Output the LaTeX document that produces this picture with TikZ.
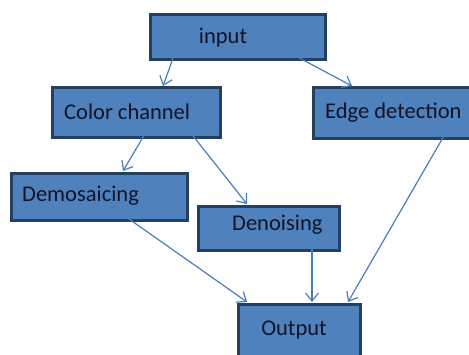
\documentclass[tikz,border=0pt]{standalone}
\usepackage{fontspec}
\setmainfont{Carlito}
\usetikzlibrary{arrows.meta}
\definecolor{boxfill}{HTML}{4F81BD}
\definecolor{boxline}{HTML}{243F60}
\definecolor{arrowc}{HTML}{4A7EBB}
\definecolor{txt}{HTML}{10142A}
\tikzset{
  blk/.style={draw=boxline, line width=3pt, fill=boxfill},
  lbl/.style={text=txt, font=\fontsize{22.5}{25}\selectfont, inner sep=0pt},
  conn/.style={draw=arrowc, line width=1.2pt, -{Straight Barb[length=8pt,width=13pt,line width=1.2pt]}}
}
\begin{document}
\begin{tikzpicture}[x=1pt,y=-1pt]
\clip (0,0) rectangle (469,354);
\fill[white] (0,0) rectangle (469,354);
% boxes
\draw[blk] (150,14) rectangle (325,59);
\draw[blk] (52,87) rectangle (220,137);
\draw[blk] (313,87) rectangle (470,138);
\draw[blk] (11,173) rectangle (187,220);
\draw[blk] (198,206) rectangle (339,250);
\draw[blk] (238,304) rectangle (360,358);
% labels
\node[lbl] (in) at (223,38) {input};
\node[lbl, anchor=west] (cc) at (64,112) {Color channel};
\node[lbl, anchor=west] (ed) at (325,113) {Edge detection};
\node[lbl, anchor=west] (dm) at (22,196) {Demosaicing};
\node[lbl, anchor=west] (dn) at (232,225) {Denoising};
\node[lbl] (out) at (294,330) {Output};
% connector endpoints
\coordinate (a1) at (176,50);  \coordinate (a2) at (163,86);
\coordinate (b1) at (290,53);  \coordinate (b2) at (352,86);
\coordinate (c1) at (149,127); \coordinate (c2) at (123,171);
\coordinate (d1) at (186,127); \coordinate (d2) at (247,204);
\coordinate (e1) at (452,122); \coordinate (e2) at (348,302);
\coordinate (f1) at (112,207); \coordinate (f2) at (247,302);
\coordinate (g1) at (312,244); \coordinate (g2) at (312,302);
\draw[conn] (a1) -- (a2);
\draw[conn] (b1) -- (b2);
\draw[conn] (c1) -- (c2);
\draw[conn] (d1) -- (d2);
\draw[conn] (e1) -- (e2);
\draw[conn] (f1) -- (f2);
\draw[conn] (g1) -- (g2);
\end{tikzpicture}
\end{document}
